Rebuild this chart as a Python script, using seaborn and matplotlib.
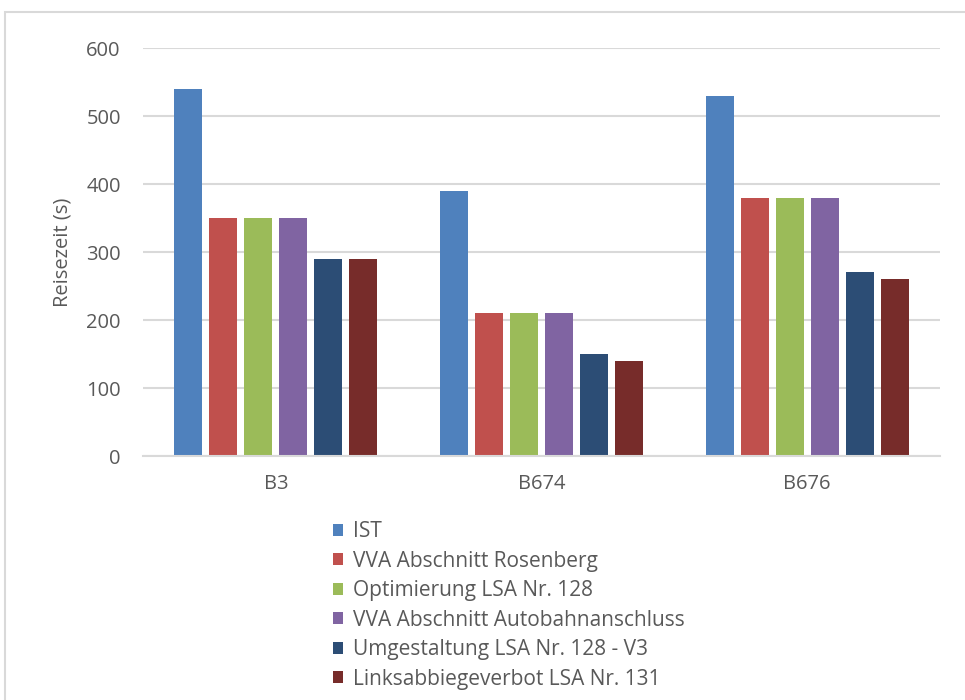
import matplotlib
matplotlib.use("Agg")
import matplotlib.pyplot as plt
from matplotlib.patches import Rectangle
import seaborn as sns
import pandas as pd

# Streckenabschnitte und Varianten
strecken = ["B3", "B674", "B676"]
varianten = [
    "IST",
    "VVA Abschnitt Rosenberg",
    "Optimierung LSA Nr. 128",
    "VVA Abschnitt Autobahnanschluss",
    "Umgestaltung LSA Nr. 128 - V3",
    "Linksabbiegeverbot LSA Nr. 131",
]
# Reisezeiten in Sekunden je Variante (Reihenfolge wie strecken)
ist = [540, 390, 530]
vva_rosenberg = [350, 210, 380]
optimierung_128 = [350, 210, 380]
vva_autobahn = [350, 210, 380]
umgestaltung_128 = [290, 150, 270]
linksabbiegeverbot_131 = [290, 140, 260]
yticks = [0, 100, 200, 300, 400, 500, 600]

farben = ["#4F81BD", "#C0504D", "#9BBB59", "#8064A2", "#2C4D75", "#772C2A"]

serien = [ist, vva_rosenberg, optimierung_128, vva_autobahn,
          umgestaltung_128, linksabbiegeverbot_131]
rows = []
for name, werte in zip(varianten, serien):
    for s, w in zip(strecken, werte):
        rows.append({"Strecke": s, "Variante": name, "Reisezeit": w})
df = pd.DataFrame(rows)

sns.set_theme(style="white")
plt.rcParams["font.family"] = ["Open Sans", "DejaVu Sans"]
textfarbe = "#595959"
fs = 14.5

fig = plt.figure(figsize=(9.65, 7.0), dpi=100)
ax = fig.add_axes([143 / 965, 1 - 456 / 700, (940 - 143) / 965, (456 - 48) / 700])

sns.barplot(data=df, x="Strecke", y="Reisezeit", hue="Variante",
            order=strecken, hue_order=varianten, palette=farben,
            saturation=1, width=0.79, gap=0.2, errorbar=None,
            edgecolor="none", linewidth=0, ax=ax, legend=False)

ax.set_ylim(0, 600)
ax.set_yticks(yticks)
ax.set_xlim(-0.5, 2.5)
ax.yaxis.grid(True, color="#D9D9D9", linewidth=1.5)
ax.set_axisbelow(True)
for side in ["top", "right", "left"]:
    ax.spines[side].set_visible(False)
ax.spines["bottom"].set_color("#D9D9D9")
ax.spines["bottom"].set_linewidth(1.5)
ax.tick_params(axis="both", length=0, labelsize=fs, labelcolor=textfarbe)
ax.tick_params(axis="y", pad=16)
ax.tick_params(axis="x", pad=13)
ax.set_xlabel("")
ax.set_ylabel("Reisezeit (s)", fontsize=fs, color=textfarbe, labelpad=10)

handles = [Rectangle((0, 0), 1, 1, facecolor=c, edgecolor="none") for c in farben]
fig.legend(handles, varianten, loc="upper left",
           bbox_to_anchor=(333 / 965, 1 - 521 / 700), frameon=False,
           fontsize=15, labelcolor=textfarbe, handlelength=0.5,
           handleheight=0.5, handletextpad=0.48, labelspacing=0.41,
           borderaxespad=0, borderpad=0)

# Rahmen des Diagrammbereichs
fig.patches.append(Rectangle((5 / 965, -0.1), 1.2, 1.1 - 12 / 700,
                             transform=fig.transFigure, fill=False,
                             edgecolor="#D9D9D9", linewidth=1.5))

fig.savefig("out.png", dpi=100, facecolor="white")
